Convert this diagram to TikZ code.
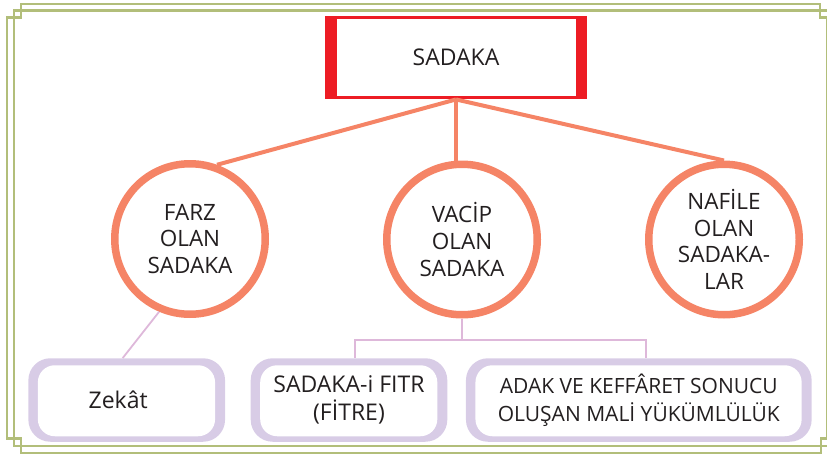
\documentclass[tikz,border=0pt]{standalone}
\usepackage{fontspec}
\setmainfont{Open Sans}
\usetikzlibrary{calc}
\definecolor{framegreen}{RGB}{178,190,122}
\definecolor{rootred}{RGB}{237,28,36}
\definecolor{ringorange}{RGB}{245,132,102}
\definecolor{leaflilac}{RGB}{216,204,230}
\definecolor{twigpink}{RGB}{222,184,218}
\definecolor{inkgray}{RGB}{35,31,32}

\begin{document}
\begin{tikzpicture}[
    x=1pt, y=-1pt,
    font=\fontsize{22.5}{26.7}\selectfont, text=inkgray,
    frameline/.style={draw=framegreen, line width=2.4pt},
    rootbox/.style={fill=rootred, minimum width=262pt, minimum height=83.3pt, inner sep=0pt,
      font=\fontsize{23}{27}\selectfont,
      path picture={\fill[white] ([xshift=11.7pt,yshift=-3pt]path picture bounding box.north west)
        rectangle ([xshift=-10.7pt,yshift=3.3pt]path picture bounding box.south east);}},
    ring/.style={circle, draw=ringorange, line width=7.5pt, fill=white, minimum size=150.5pt,
      inner sep=0pt, align=center},
    leafbox/.style={fill=leaflilac, rounded corners=22pt, minimum height=83.5pt, inner sep=0pt,
      align=center, font=\fontsize{23}{27.5}\selectfont,
      path picture={\fill[white, rounded corners=17pt] ([xshift=9.5pt,yshift=-7pt]path picture bounding box.north west)
        rectangle ([xshift=-10pt,yshift=5.5pt]path picture bounding box.south east);}},
    branch/.style={draw=ringorange, line width=4pt},
    twig/.style={draw=twigpink, line width=1.8pt}
]
  \useasboundingbox (0,0) rectangle (827,455);

  \draw[frameline] (7,17.5) -- (21,17.5) -- (21,3.7) -- (820,3.7) -- (820,17.5) -- (827,17.5)
    -- (827,438.5) -- (821,438.5) -- (821,453) -- (21,453) -- (21,438.5) -- (7,438.5) -- cycle;
  \draw[frameline] (14,10.5) rectangle (834,446);

  \node[rootbox] (sadaka) at (456,57.6) {SADAKA};

  \node[ring] (farz) at (190,239) {FARZ\\OLAN\\SADAKA};
  \node[ring] (vacip) at (462,239.5) {VACİP\\OLAN\\SADAKA};
  \node[ring] (nafile) at (724,239.5) {NAFİLE\\OLAN\\SADAKA-\\LAR};

  \node[leafbox, minimum width=196.7pt] (zekat) at (126.7,400) {Zekât\hspace*{17pt}};
  \node[leafbox, minimum width=196.6pt] (fitr) at (349,400) {SADAKA-i FITR\\(FİTRE)};
  \node[leafbox, minimum width=345.7pt, font=\fontsize{21}{28}\selectfont] (adak) at (638.8,400)
    {ADAK VE KEFFÂRET SONUCU\\OLUŞAN MALİ YÜKÜMLÜLÜK};

  \draw[branch] (sadaka.south) -- (farz.70);
  \draw[branch] (sadaka.south) -- (sadaka.south |- vacip.north);
  \draw[branch] (sadaka.south) -- (nafile.north);

  \draw[twig] (farz.247) -- ([xshift=-4pt]zekat.north);
  \coordinate (split) at ([yshift=-21.5pt]vacip.south);
  \draw[twig] (vacip.south) -- (split);
  \draw[twig] ([xshift=6pt]fitr.north) |- (split) -| ([xshift=7pt]adak.north);
\end{tikzpicture}
\end{document}
